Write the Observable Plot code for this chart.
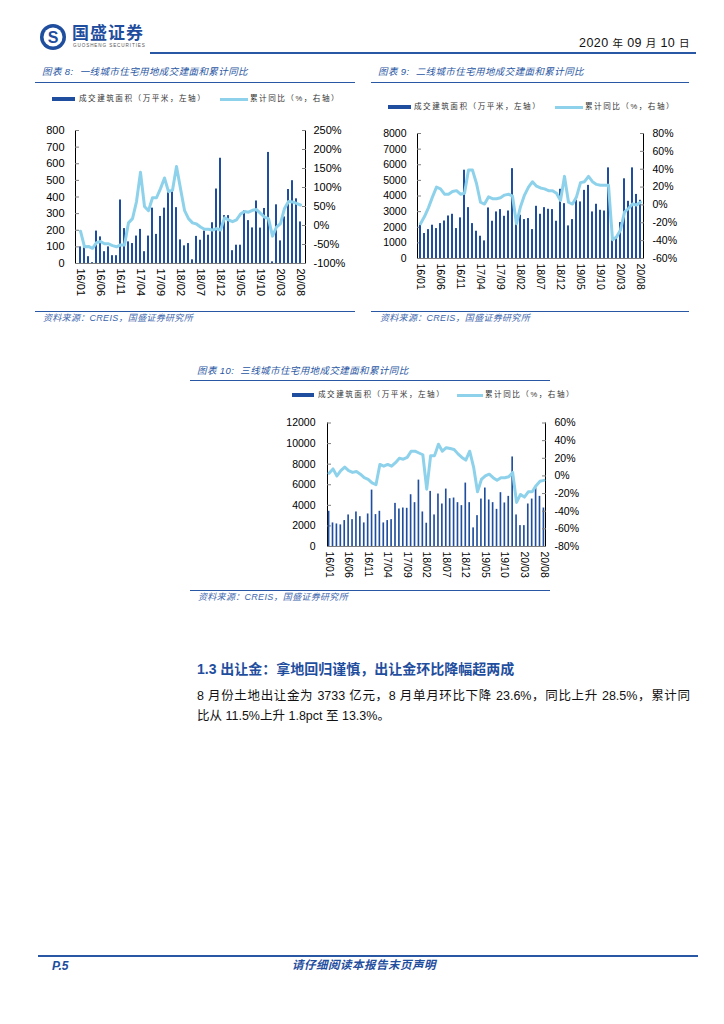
<!DOCTYPE html>
<html>
<head>
<meta charset="utf-8">
<script src="https://cdn.jsdelivr.net/npm/d3@7"></script>
<script src="https://cdn.jsdelivr.net/npm/@observablehq/plot@0.6"></script>
<style>
  html, body { margin: 0; padding: 0; }
  body { width: 724px; height: 1024px; position: relative; background: #fff; overflow: hidden;
         font-family: "Liberation Sans", Arial, "Noto Sans CJK SC", sans-serif; }
  .abs { position: absolute; white-space: nowrap; }
  .cjk { font-family: "Liberation Sans", "Noto Sans CJK SC", sans-serif; }
  .rule { position: absolute; height: 0; border-top: 1.6px solid #2A57A3; }
  .title { font-size: 9.5px; font-style: italic; color: #2A57A3; letter-spacing: 0.4px; line-height: 1; }
  .src { font-size: 9px; font-style: italic; color: #3D66AD; letter-spacing: 0.3px; line-height: 1; }
  .leg { font-size: 7.6px; color: #333; letter-spacing: 1.5px; line-height: 1; }
  .sw-bar { position: absolute; height: 4px; background: #1F4E9E; }
  .sw-line { position: absolute; height: 3px; background: #8DD2EA; }
  .chart { position: absolute; }
  .chart svg { position: absolute; left: 0; top: 0; max-width: none !important; }
</style>
</head>
<body>

<!-- header -->
<svg class="abs" style="left:38px;top:22px" width="30" height="30" viewBox="0 0 30 30">
  <circle cx="15" cy="15" r="13" fill="#1F4E9E"/>
  <circle cx="15" cy="15" r="9.5" fill="#fff"/>
  <text x="15" y="20.5" text-anchor="middle" font-family="Liberation Sans" font-weight="bold" font-size="16" fill="#1F4E9E">S</text>
</svg>
<div class="abs cjk" style="left:72px;top:25px;font-size:17px;font-weight:bold;color:#1F4E9E;letter-spacing:1px;line-height:1">国盛证券</div>
<div class="abs" style="left:73px;top:44px;font-size:4.6px;color:#555;letter-spacing:0.9px;line-height:1">GUOSHENG SECURITIES</div>
<div class="abs cjk" style="right:34px;top:37px;font-size:12.5px;color:#111;line-height:1;letter-spacing:0.4px">2020 <span style="font-size:10.5px">年</span> 09 <span style="font-size:10.5px">月</span> 10 <span style="font-size:10.5px">日</span></div>
<div class="rule" style="left:150px;top:52px;width:546px;border-top-width:2px"></div>

<!-- chart 8 -->
<div class="abs cjk title" style="left:42px;top:67px">图表 8:&nbsp; 一线城市住宅用地成交建面和累计同比</div>
<div class="rule" style="left:35px;top:82px;width:320px"></div>
<div class="sw-bar" style="left:52px;top:97px;width:23px"></div>
<div class="abs cjk leg" style="left:79px;top:95px">成交建筑面积（万平米，左轴）</div>
<div class="sw-line" style="left:220px;top:98px;width:28px"></div>
<div class="abs cjk leg" style="left:250px;top:95px">累计同比（%，右轴）</div>
<div id="c1" class="chart" style="left:30px;top:120px;width:330px;height:190px"></div>
<div class="rule" style="left:35px;top:311px;width:320px"></div>
<div class="abs cjk src" style="left:43px;top:314px">资料来源：<span style="font-family:'Liberation Sans'">CREIS</span>，国盛证券研究所</div>

<!-- chart 9 -->
<div class="abs cjk title" style="left:378px;top:67px">图表 9:&nbsp; 二线城市住宅用地成交建面和累计同比</div>
<div class="rule" style="left:371px;top:82px;width:318px"></div>
<div class="sw-bar" style="left:388px;top:105px;width:23px"></div>
<div class="abs cjk leg" style="left:414px;top:103px">成交建筑面积（万平米，左轴）</div>
<div class="sw-line" style="left:555px;top:106px;width:28px"></div>
<div class="abs cjk leg" style="left:585px;top:103px">累计同比（%，右轴）</div>
<div id="c2" class="chart" style="left:365px;top:123px;width:330px;height:190px"></div>
<div class="rule" style="left:371px;top:311px;width:318px"></div>
<div class="abs cjk src" style="left:380px;top:314px">资料来源：<span style="font-family:'Liberation Sans'">CREIS</span>，国盛证券研究所</div>

<!-- chart 10 -->
<div class="abs cjk title" style="left:197px;top:366px">图表 10:&nbsp; 三线城市住宅用地成交建面和累计同比</div>
<div class="rule" style="left:190px;top:380px;width:360px"></div>
<div class="sw-bar" style="left:292px;top:393px;width:22px"></div>
<div class="abs cjk leg" style="left:318px;top:391px">成交建筑面积（万平米，左轴）</div>
<div class="sw-line" style="left:457px;top:394px;width:26px"></div>
<div class="abs cjk leg" style="left:485px;top:391px">累计同比（%，右轴）</div>
<div id="c3" class="chart" style="left:270px;top:412px;width:340px;height:190px"></div>
<div class="rule" style="left:190px;top:590px;width:360px"></div>
<div class="abs cjk src" style="left:198px;top:593px">资料来源：<span style="font-family:'Liberation Sans'">CREIS</span>，国盛证券研究所</div>

<!-- text -->
<div class="abs cjk" style="left:197px;top:662px;font-size:14px;font-weight:bold;color:#1F4E9E;line-height:1">1.3 出让金：拿地回归谨慎，出让金环比降幅超两成</div>
<div class="abs cjk" style="left:197px;top:690px;width:493px;font-size:12.5px;color:#111;line-height:1;text-align:justify;text-align-last:justify;white-space:normal">8 月份土地出让金为 3733 亿元，8 月单月环比下降 23.6%，同比上升 28.5%，累计同</div>
<div class="abs cjk" style="left:197px;top:710px;font-size:12.5px;color:#111;line-height:1">比从 11.5%上升 1.8pct 至 13.3%。</div>

<!-- footer -->
<div class="rule" style="left:38px;top:955px;width:660px;border-top-width:2px"></div>
<div class="abs" style="left:52px;top:960px;font-size:12px;font-weight:bold;font-style:italic;color:#1F4E9E;line-height:1">P.5</div>
<div class="abs cjk" style="left:292px;top:960px;font-size:11.5px;font-weight:bold;font-style:italic;color:#1F4E9E;line-height:1;letter-spacing:0.5px">请仔细阅读本报告末页声明</div>

<script>
// ---------- data ----------
const months = ["16/01","16/02","16/03","16/04","16/05","16/06","16/07","16/08","16/09","16/10","16/11","16/12",
  "17/01","17/02","17/03","17/04","17/05","17/06","17/07","17/08","17/09","17/10","17/11","17/12",
  "18/01","18/02","18/03","18/04","18/05","18/06","18/07","18/08","18/09","18/10","18/11","18/12",
  "19/01","19/02","19/03","19/04","19/05","19/06","19/07","19/08","19/09","19/10","19/11","19/12",
  "20/01","20/02","20/03","20/04","20/05","20/06","20/07","20/08"];
const tickMonths = ["16/01","16/06","16/11","17/04","17/09","18/02","18/07","18/12","19/05","19/10","20/03","20/08"];

// Tier-1 cities: transacted floor area (10k m²) and cumulative YoY (%)
const tier1Area = [100,95,41,5,195,160,71,100,47,47,382,210,130,120,165,205,71,165,333,175,283,333,427,431,
  336,142,106,120,22,163,140,195,170,245,448,633,288,288,77,110,110,317,258,214,376,213,331,668,10,353,136,280,445,498,389,250];
const tier1YoY = [-15,-56,-55,-60,-45,-42,-48,-48,-53,-56,-51,-51,7,18,63,140,50,39,73,73,97,125,89,93,
  155,97,40,18,7,4,-4,-10,-10,-12,-8,-12,20,15,10,15,30,37,35,40,42,32,22,18,-28,-4,5,45,63,62,58,54];

// Tier-2 cities
const tier2Area = [2130,1600,1850,2130,1915,2234,2400,2720,2830,1915,2600,5650,3255,2234,1745,1425,1128,3235,2383,2980,
  3130,2700,3040,5750,2280,2770,2490,2555,1850,3340,2830,3255,3150,3130,2383,4430,3510,2085,2490,3725,
  3620,4360,4680,2980,3470,3085,3040,5800,2065,1300,2300,5100,3660,5800,4100,3725];
const tier2YoY = [-21,-13,-3,9,20,18,12,12,15,16,12,13,39,39,24,3,1,9,7,7,8,11,12,10,-21,-2,11,20,26,21,
  19,18,16,16,13,5,32,3,1,9,25,26,32,26,23,22,22,22,-39,-36,-28,-8,-4,1,0,3];

// Tier-3 cities
const tier3Area = [3420,2290,2190,2100,2520,3065,2610,3355,2900,2290,3160,5480,3100,3420,2290,2520,2610,4190,3645,3740,
  3710,5030,4260,6450,3355,2260,5355,3065,5100,4130,5580,4645,4710,4260,3970,6160,4260,1810,3000,4610,
  5680,4520,4260,3610,5230,4230,4870,8700,3065,2030,2030,4130,4610,5680,4870,3740];
const tier3YoY = [3,8,0,6,10,6,4,5,2,-2,-4,-8,-10,13,11,13,11,15,20,19,21,28,28,26,24,-15,23,23,36,28,
  32,31,30,25,21,18,28,10,-18,-4,0,2,-2,-5,-2,-2,-1,4,-30,-21,-24,-18,-18,-11,-6,-5];

const leftTicks1 = [0,100,200,300,400,500,600,700,800];
const rightTicks1 = [-100,-50,0,50,100,150,200,250];
const leftTicks2 = [0,1000,2000,3000,4000,5000,6000,7000,8000];
const rightTicks2 = [-60,-40,-20,0,20,40,60,80];
const leftTicks3 = [0,2000,4000,6000,8000,10000,12000];
const rightTicks3 = [-80,-60,-40,-20,0,20,40,60];

// ---------- drawing ----------
const BAR = "#1F4E9E", LINE = "#8DD2EA", AXIS = "#7f7f7f";
const newAxes = typeof Plot.axisY === "function";
const TS = -4; // inward ticks
function pad(gap) { return newAxes ? gap - TS : gap; }

function drawChart(id, cfg) {
  const el = document.getElementById(id);
  const data = months.map((m, i) => ({m, v: cfg.area[i], p: cfg.yoy[i]}));
  const pIn = 0.58, pOut = 0.2;
  const common = {
    width: cfg.w, height: cfg.h,
    marginLeft: cfg.ml, marginRight: cfg.mr, marginTop: cfg.mt, marginBottom: cfg.mb,
    style: {background: "transparent", fontFamily: "'Liberation Sans', Arial, sans-serif",
            fontSize: cfg.fs + "px", color: "#000", overflow: "visible"}
  };
  const bars = Plot.plot({
    ...common,
    x: {type: "band", domain: months, paddingInner: pIn, paddingOuter: pOut,
        ticks: tickMonths, tickRotate: 90, tickSize: 0, tickPadding: 5, label: null},
    y: {domain: cfg.left, ticks: cfg.leftTicks, tickSize: TS, tickPadding: pad(cfg.lp), label: null,
        line: true, tickFormat: d => String(d)},
    marks: [
      Plot.barY(data, {x: "m", y: "v", fill: BAR}),
      Plot.ruleY([0], {stroke: AXIS})
    ]
  });
  const line = Plot.plot({
    ...common,
    x: {type: "point", domain: months, padding: pOut + (1 - pIn) / 2, axis: null},
    y: {domain: cfg.right, ticks: cfg.rightTicks, axis: "right", tickSize: TS, tickPadding: pad(cfg.rp),
        label: null, line: true, tickFormat: d => d + "%"},
    marks: [
      Plot.line(data, {x: "m", y: "p", stroke: LINE, strokeWidth: cfg.sw, strokeLinejoin: "round", strokeLinecap: "round"})
    ]
  });
  for (const svg of [bars, line]) {
    svg.querySelectorAll("[aria-label$='axis'] path, [aria-label$='axis'] line, [aria-label$='tick'] path, [aria-label$='tick'] line, .domain").forEach(n => n.setAttribute("stroke", AXIS));
  }
  el.append(bars, line);
}

drawChart("c1", {area: tier1Area, yoy: tier1YoY, left: [0, 800], leftTicks: leftTicks1, right: [-100, 250], rightTicks: rightTicks1,
  w: 330, h: 190, ml: 45, mr: 55, mt: 10, mb: 47, fs: 11, sw: 3, lp: 11, rp: 8});
drawChart("c2", {area: tier2Area, yoy: tier2YoY, left: [0, 8000], leftTicks: leftTicks2, right: [-60, 80], rightTicks: rightTicks2,
  w: 330, h: 190, ml: 52, mr: 52, mt: 10, mb: 55, fs: 10.5, sw: 3, lp: 11, rp: 9});
drawChart("c3", {area: tier3Area, yoy: tier3YoY, left: [0, 12000], leftTicks: leftTicks3, right: [-80, 60], rightTicks: rightTicks3,
  w: 340, h: 190, ml: 57, mr: 65, mt: 10.5, mb: 56, fs: 10.5, sw: 3, lp: 12, rp: 9});
</script>
</body>
</html>
